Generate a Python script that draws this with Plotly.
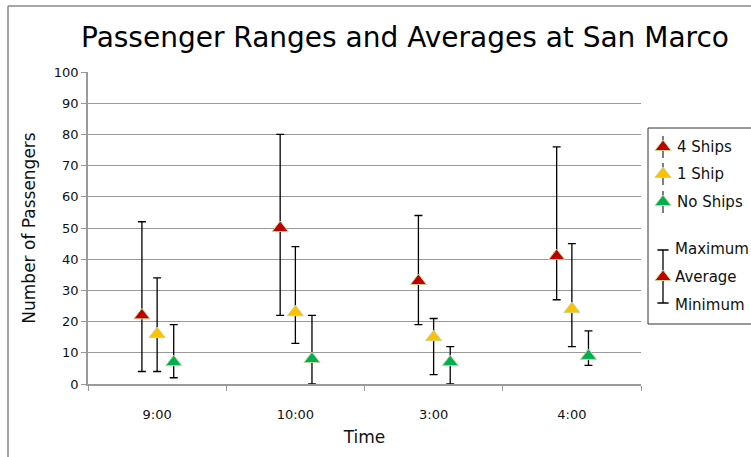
import plotly.graph_objects as go

W, H = 751, 457

# data
times = ['9:00', '10:00', '3:00', '4:00']
series = ['4 Ships', '1 Ship', 'No Ships']
avg_4 = [22, 50, 33, 41]
max_4 = [52, 80, 54, 76]
min_4 = [4, 22, 19, 27]
avg_1 = [16, 23, 15, 24]
max_1 = [34, 44, 21, 45]
min_1 = [4, 13, 3, 12]
avg_0 = [7, 8, 7, 9]
max_0 = [19, 22, 12, 17]
min_0 = [2, 0, 0, 6]

colors = ['#C00000', '#FFC000', '#00B050']
outline = '#C4D79B'
grid = '#9A9A9A'
font = 'DejaVu Sans'


def px(x):
    return x / W


def py(y):
    return 1 - y / H


fig = go.Figure()

offsets = [-0.11, 0.0, 0.12]
groups = [(avg_4, max_4, min_4), (avg_1, max_1, min_1), (avg_0, max_0, min_0)]
for name, col, off, (av, mx, mn) in zip(series, colors, offsets, groups):
    fig.add_trace(go.Scatter(
        x=[i + off for i in range(len(times))], y=av, mode='markers', name=name,
        marker=dict(symbol='triangle-up', size=14, color=col, line=dict(color=outline, width=1)),
        error_y=dict(type='data', symmetric=False,
                     array=[m - a for m, a in zip(mx, av)],
                     arrayminus=[a - m for a, m in zip(av, mn)],
                     color='black', thickness=1.3, width=4),
        showlegend=False,
    ))

# hand-drawn legend on a full-canvas overlay axis (pixel units)
leg_x = 663
for col, y, name in zip(colors, [147, 174, 202], series):
    fig.add_trace(go.Scatter(x=[leg_x, leg_x], y=[y - 11, y + 11], mode='lines',
                             line=dict(color='black', width=1), xaxis='x2', yaxis='y2',
                             showlegend=False, hoverinfo='skip'))
    fig.add_trace(go.Scatter(x=[leg_x], y=[y], mode='markers', xaxis='x2', yaxis='y2',
                             marker=dict(symbol='triangle-up', size=14, color=col,
                                         line=dict(color=outline, width=1)),
                             showlegend=False, hoverinfo='skip'))
    fig.add_annotation(x=px(675), y=py(y), xref='paper', yref='paper', text=name,
                       showarrow=False, xanchor='left', yanchor='middle',
                       font=dict(family=font, size=15, color='#111'))

fig.add_trace(go.Scatter(x=[leg_x, leg_x], y=[250, 303], mode='lines+markers',
                         line=dict(color='black', width=1.3), xaxis='x2', yaxis='y2',
                         marker=dict(symbol='line-ew', size=8, line=dict(color='black', width=1.5)),
                         showlegend=False, hoverinfo='skip'))
fig.add_trace(go.Scatter(x=[leg_x], y=[277], mode='markers', xaxis='x2', yaxis='y2',
                         marker=dict(symbol='triangle-up', size=14, color=colors[0],
                                     line=dict(color=outline, width=1)),
                         showlegend=False, hoverinfo='skip'))
for y, txt in zip([249, 277, 305], ['Maximum', 'Average', 'Minimum']):
    fig.add_annotation(x=px(673), y=py(y), xref='paper', yref='paper', text=txt,
                       showarrow=False, xanchor='left', yanchor='middle',
                       font=dict(family=font, size=15, color='#111'))

fig.add_shape(type='rect', xref='paper', yref='paper', x0=px(648), x1=px(800),
              y0=py(324), y1=py(128), line=dict(color='#333', width=1))
# chart outer border (left and top visible)
fig.add_shape(type='line', xref='paper', yref='paper', x0=px(8), x1=px(8), y0=0, y1=py(6),
              line=dict(color='#888', width=1.5))
fig.add_shape(type='line', xref='paper', yref='paper', x0=px(8), x1=1, y0=py(6), y1=py(6),
              line=dict(color='#888', width=1.5))

fig.update_layout(
    width=W, height=H,
    margin=dict(l=0, r=0, t=0, b=0),
    paper_bgcolor='white', plot_bgcolor='rgba(0,0,0,0)',
    font=dict(family=font, color='#222'),
    title=dict(text='Passenger Ranges and Averages at San Marco', x=px(405), y=py(37),
               xanchor='center', yanchor='middle', font=dict(family=font, size=28, color='black')),
    xaxis=dict(domain=[px(88), px(641)], range=[-0.5, 3.5], tickmode='array', automargin=False,
               tickvals=list(range(len(times))), ticktext=times, ticks='', ticklabelstandoff=18,
               tickfont=dict(size=13, color='#111'), showline=True, linecolor=grid, linewidth=1.5,
               showgrid=False, zeroline=False,
               minor=dict(tickmode='linear', tick0=-0.5, dtick=1, ticks='outside', ticklen=5,
                          tickcolor=grid, showgrid=False),
               title=dict(text='Time', font=dict(size=17, color='#111'), standoff=10)),
    yaxis=dict(domain=[py(384), py(72)], range=[0, 100], dtick=10, ticks='outside', ticklen=5,
               tickcolor=grid, tickfont=dict(size=13, color='#111'), showline=True, linecolor=grid,
               linewidth=1.5, automargin=False,
               showgrid=True, gridcolor=grid, gridwidth=1.3, zeroline=False,
               title=dict(text='Number of Passengers', font=dict(size=17, color='#111'), standoff=14)),
    xaxis2=dict(domain=[0, 1], range=[0, W], visible=False, fixedrange=True, anchor='y2',
                automargin=False),
    yaxis2=dict(domain=[0, 1], range=[H, 0], visible=False, fixedrange=True, anchor='x2',
                automargin=False),
)

fig.write_html('out.html', config={'displayModeBar': False},
               post_script="document.body.style.margin='0';")
